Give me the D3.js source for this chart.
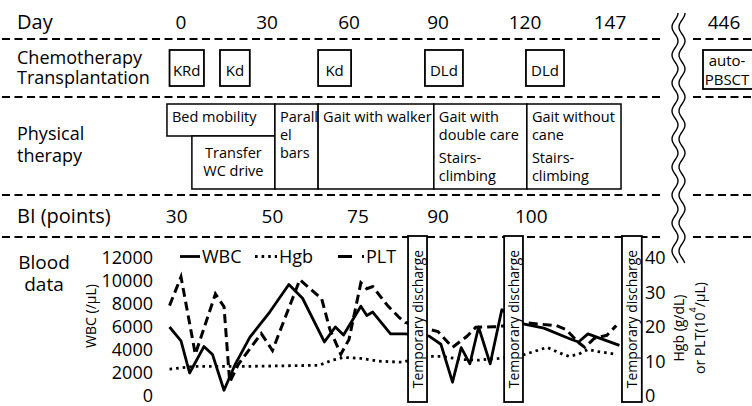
<!DOCTYPE html>
<html lang="en">
<head>
<meta charset="utf-8">
<title>Clinical course</title>
<script src="https://cdn.jsdelivr.net/npm/d3@7"></script>
<style>
  body{margin:0;background:#fff;}
  svg{display:block;font-family:"Open Sans",sans-serif;}
  text{fill:#000;}
</style>
</head>
<body>
<div id="chart"></div>
<script>
// ---- data ----
var dayTicks = [0, 30, 60, 90, 120, 147]
var breakDay = 446

var rowLabels = [["Day"], ["Chemotherapy", "Transplantation"], ["Physical", "therapy"], ["BI (points)"], ["Blood", "data"]]

var chemo = [
  {label: ["KRd"], start: -4, end: 8},
  {label: ["Kd"], start: 13.6, end: 24},
  {label: ["Kd"], start: 48.7, end: 60.7},
  {label: ["DLd"], start: 85.6, end: 98.6},
  {label: ["DLd"], start: 120.3, end: 132.4}
]
var transplant = {label: ["auto-", "PBSCT"], start: 439, end: 458}

var therapy = [
  {lines: ["Bed mobility"], start: -4.9, end: 32.9, part: "upper"},
  {lines: ["Transfer", "WC drive"], start: 3.8, end: 32.9, part: "lower"},
  {lines: ["Parall", "el", "bars"], start: 32.9, end: 48.7, part: "whole"},
  {lines: ["Gait with walker"], start: 48.7, end: 88.6, part: "whole"},
  {lines: ["Gait with", "double care", "", "Stairs-", "climbing"], start: 88.6, end: 120.6, part: "whole"},
  {lines: ["Gait without", "cane", "", "Stairs-", "climbing"], start: 120.6, end: 150.5, part: "whole"}
]

var biDays = [-1.5, 32, 63, 90, 122]
var biValues = [30, 50, 75, 90, 100]

var wbcDays = [-4, 0, 3, 8, 11, 15, 19, 24, 31, 38, 43, 51, 55, 58, 64, 66, 68, 74, 79, 87, 91, 95, 98, 101, 104, 108, 112, 119, 126, 134, 137, 140, 143, 150]
var wbcValues = [6000, 4800, 2000, 4300, 3600, 500, 2800, 5100, 7300, 9700, 8500, 4700, 6000, 5300, 7800, 7000, 7300, 5400, 5400, 5200, 4500, 1200, 4200, 2800, 6000, 2800, 7500, 6300, 5900, 5000, 4700, 5400, 5100, 4400]

var hgbDays = [-4, 5, 24, 49, 54, 58, 64, 70, 78, 86, 91, 98, 104, 111, 119, 127, 132, 134, 137, 140, 143, 149]
var hgbValues = [7.8, 8.6, 8.6, 8.9, 10.4, 11.2, 10.9, 10.1, 9.8, 11.5, 11.5, 10.6, 10.4, 10.9, 11.8, 14.1, 12.1, 11.5, 12.1, 13.5, 12.9, 12.1]

var pltDays = [-4, 0, 5, 12, 15, 17, 20, 28, 32, 42, 50, 53, 57, 60, 64, 66, 68, 73, 77, 79, 87, 90, 95, 100, 103, 109, 111, 119, 130, 133, 137, 139, 142, 146, 149]
var pltValues = [26.2, 34.5, 12.1, 29.6, 25.9, 4.0, 9.2, 18.1, 13.2, 33.7, 28.2, 19.3, 12.1, 16.4, 32.8, 31.1, 31.7, 26.2, 22.7, 21.3, 19.3, 18.7, 14.1, 17.3, 19.9, 20.1, 20.1, 21.3, 20.4, 19.3, 15.5, 14.1, 16.7, 17.6, 20.4]

var discharges = [[79.9, 86.3], [112.8, 119.3], [150.8, 157.1]]

var wbcTicks = [0, 2000, 4000, 6000, 8000, 10000, 12000]
var rightTicks = [0, 10, 20, 30, 40]

// ---- drawing ----
var W = 752, H = 406
var svg = d3.select("#chart").append("svg").attr("width", W).attr("height", H)
svg.append("rect").attr("width", W).attr("height", H).attr("fill", "#fff")

// day axis, tick labels are not evenly spaced in the original so use a polylinear scale
var x = d3.scaleLinear().domain(dayTicks).range([181, 267, 349, 438, 525, 610])
var xAfter = d3.scaleLinear().domain([breakDay, breakDay + 10]).range([724, 754])

// dashed row separators, broken at the wavy line
var sepY = [39, 97, 195, 237]
sepY.forEach(function(y){
  [[2, 660], [693, 752]].forEach(function(seg){
    svg.append("line")
      .attr("x1", seg[0]).attr("x2", seg[1])
      .attr("y1", y).attr("y2", y)
      .attr("stroke", "#000").attr("stroke-width", 2)
      .attr("stroke-dasharray", "8,4.5")
  })
})

// wavy break mark (double line)
var wave = d3.line().x(function(d){ return d[0] }).y(function(d){ return d[1] }).curve(d3.curveBasis)
;[675, 682].forEach(function(cx){
  var pts = d3.range(13, 264, 1).map(function(y){
    return [cx + 3 * Math.cos(2 * Math.PI * (y - 13) / 28), y]
  })
  svg.append("path").attr("d", wave(pts))
    .attr("fill", "none").attr("stroke", "#000").attr("stroke-width", 1.4)
})

// row labels
var labelSpec = [
  {y: [29], size: 20, anchor: "start", x: 17},
  {y: [64, 84], size: 18, anchor: "start", x: 17},
  {y: [140, 162], size: 18, anchor: "start", x: 17},
  {y: [223], size: 20, anchor: "start", x: 17},
  {y: [269, 291], size: 19, anchor: "middle", x: 44}
]
rowLabels.forEach(function(lines, i){
  var s = labelSpec[i]
  lines.forEach(function(t, j){
    svg.append("text").attr("x", s.x).attr("y", s.y[j])
      .attr("font-size", s.size).attr("text-anchor", s.anchor).text(t)
  })
})

// day tick labels
svg.selectAll(".dayTick").data(dayTicks).enter().append("text")
  .attr("class", "dayTick")
  .attr("x", function(d){ return x(d) }).attr("y", 29)
  .attr("font-size", 19).attr("text-anchor", "middle")
  .text(function(d){ return d })
svg.append("text").attr("x", xAfter(breakDay)).attr("y", 29)
  .attr("font-size", 19).attr("text-anchor", "middle").text(breakDay)

// chemotherapy boxes
function drawBox(d, xs, top, bottom, size, firstBase, step){
  var x0 = xs(d.start), x1 = xs(d.end)
  svg.append("rect").attr("x", x0).attr("y", top)
    .attr("width", x1 - x0).attr("height", bottom - top)
    .attr("fill", "#fff").attr("stroke", "#000").attr("stroke-width", 1.8)
  d.label.forEach(function(t, j){
    svg.append("text").attr("x", Math.min((x0 + x1) / 2, 727)).attr("y", firstBase + j * step)
      .attr("font-size", size).attr("text-anchor", "middle").text(t)
  })
}
chemo.forEach(function(d){ drawBox(d, x, 50, 86, 15, 75.5, 18) })
drawBox(transplant, xAfter, 50, 89, 15, 66, 19)

// physical therapy boxes
var ptTop = 104, ptMid = 136, ptBottom = 189
therapy.forEach(function(d){
  var x0 = x(d.start), x1 = x(d.end)
  var top = d.part == "lower" ? ptMid : ptTop
  var bottom = d.part == "upper" ? ptMid : ptBottom
  svg.append("rect").attr("x", x0).attr("y", top)
    .attr("width", x1 - x0).attr("height", bottom - top)
    .attr("fill", "#fff").attr("stroke", "#000").attr("stroke-width", 1.5)
  var yy = top + (d.part == "lower" ? 22 : 18)
  d.lines.forEach(function(t){
    if(t == ""){ yy += 5; return }
    svg.append("text")
      .attr("x", d.part == "lower" ? (x0 + x1) / 2 : x0 + 5)
      .attr("y", yy)
      .attr("font-size", 14.5)
      .attr("text-anchor", d.part == "lower" ? "middle" : "start")
      .text(t)
    yy += 18
  })
})

// BI row
svg.selectAll(".bi").data(d3.zip(biDays, biValues)).enter().append("text")
  .attr("class", "bi")
  .attr("x", function(d){ return x(d[0]) }).attr("y", 223)
  .attr("font-size", 19).attr("text-anchor", "middle")
  .text(function(d){ return d[1] })

// blood data
var yL = d3.scaleLinear().domain([0, 12000]).range([396, 258])
var yR = d3.scaleLinear().domain([0, 40]).range([396, 258])

var lineL = d3.line().x(function(d){ return x(d[0]) }).y(function(d){ return yL(d[1]) })
var lineR = d3.line().x(function(d){ return x(d[0]) }).y(function(d){ return yR(d[1]) })

svg.append("path").attr("d", lineR(d3.zip(hgbDays, hgbValues)))
  .attr("fill", "none").attr("stroke", "#000").attr("stroke-width", 2.8)
  .attr("stroke-dasharray", "2.6,4")
svg.append("path").attr("d", lineR(d3.zip(pltDays, pltValues)))
  .attr("fill", "none").attr("stroke", "#000").attr("stroke-width", 3)
  .attr("stroke-dasharray", "9,5")
svg.append("path").attr("d", lineL(d3.zip(wbcDays, wbcValues)))
  .attr("fill", "none").attr("stroke", "#000").attr("stroke-width", 2.8)
  .attr("stroke-linejoin", "round")

// legend
var legend = [
  {name: "WBC", x1: 180, x2: 200, dash: null, w: 2.8},
  {name: "Hgb", x1: 255, x2: 277, dash: "2.6,4", w: 2.8},
  {name: "PLT", x1: 338, x2: 364, dash: "14,10", w: 3}
]
legend.forEach(function(l){
  svg.append("line").attr("x1", l.x1).attr("x2", l.x2).attr("y1", 256.5).attr("y2", 256.5)
    .attr("stroke", "#000").attr("stroke-width", l.w)
    .attr("stroke-dasharray", l.dash)
  svg.append("text").attr("x", l.x2 + 2).attr("y", 263)
    .attr("font-size", 18).text(l.name)
})

// temporary discharge boxes sit over the lines
discharges.forEach(function(d){
  var x0 = x(d[0]), x1 = x(d[1])
  svg.append("rect").attr("x", x0).attr("y", 236)
    .attr("width", x1 - x0).attr("height", 166)
    .attr("fill", "#fff").attr("stroke", "#000").attr("stroke-width", 1.8)
  svg.append("text")
    .attr("transform", "translate(" + ((x0 + x1) / 2) + ",319) rotate(-90)")
    .attr("text-anchor", "middle").attr("dominant-baseline", "central")
    .attr("font-size", 14).text("Temporary discharge")
})

// axes (labels only)
var axL = svg.append("g").attr("transform", "translate(153,0)")
  .call(d3.axisLeft(yL).tickValues(wbcTicks).tickSize(0).tickPadding(0).tickFormat(d3.format("d")))
var axR = svg.append("g").attr("transform", "translate(645,0)")
  .call(d3.axisRight(yR).tickValues(rightTicks).tickSize(0).tickPadding(0))
;[axL, axR].forEach(function(a){
  a.select(".domain").remove()
  a.selectAll("text").attr("font-size", 18).attr("font-family", "Open Sans").attr("fill", "#000")
})

svg.append("text").attr("transform", "translate(90,316) rotate(-90)")
  .attr("text-anchor", "middle").attr("dominant-baseline", "central")
  .attr("font-size", 14).text("WBC (/\u03bcL)")
svg.append("text").attr("transform", "translate(678,328) rotate(-90)")
  .attr("text-anchor", "middle").attr("dominant-baseline", "central")
  .attr("font-size", 14).text("Hgb (g/dL)")
var t2 = svg.append("text").attr("transform", "translate(699,328) rotate(-90)")
  .attr("text-anchor", "middle").attr("dominant-baseline", "central")
  .attr("font-size", 14)
t2.append("tspan").text("or PLT(10")
t2.append("tspan").attr("font-size", 9).attr("baseline-shift", "super").text("4")
t2.append("tspan").text("/\u03bcL)")
</script>
</body>
</html>
